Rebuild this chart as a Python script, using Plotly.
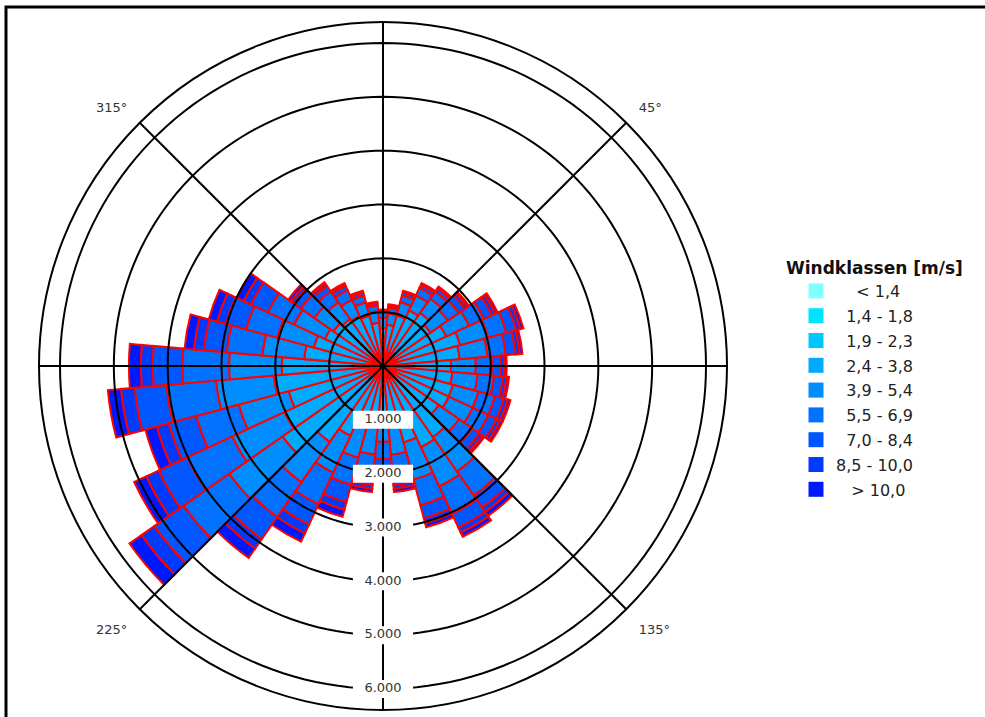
import plotly.graph_objects as go

# ---------------- data ----------------
directions = [0, 10, 20, 30, 40, 50, 60, 70, 80, 90, 100, 110, 120, 130, 140, 150, 160, 170,
              180, 190, 200, 210, 220, 230, 240, 250, 260, 270, 280, 290, 300, 310, 320, 330, 340, 350]

class_names = ["< 1,4", "1,4 - 1,8", "1,9 - 2,3", "2,4 - 3,8", "3,9 - 5,4",
               "5,5 - 6,9", "7,0 - 8,4", "8,5 - 10,0", "> 10,0"]
legend_labels = ["\u00a0\u00a0\u00a0\u00a0< 1,4", "\u00a0\u00a01,4 - 1,8", "\u00a0\u00a01,9 - 2,3",
                 "\u00a0\u00a02,4 - 3,8", "\u00a0\u00a03,9 - 5,4", "\u00a0\u00a05,5 - 6,9",
                 "\u00a0\u00a07,0 - 8,4", "8,5 - 10,0", "\u00a0\u00a0\u00a0> 10,0"]
class_colors = ["#80FFFF", "#00E4FF", "#00C8FF", "#00AAFF", "#008EFF",
                "#0072FF", "#0056FF", "#003AFF", "#0018FF"]
legend_title = "Windklassen [m/s]"

c1 = [40, 45, 60, 70, 70, 40, 45, 55, 50, 45, 45, 50, 50, 45, 50, 55, 45, 35, 30, 35, 35, 45, 50, 70, 60, 55, 60, 55, 45, 40, 35, 45, 45, 50, 55, 50]
c2 = [55, 60, 70, 85, 90, 60, 70, 80, 80, 70, 70, 75, 70, 70, 70, 70, 60, 45, 40, 50, 45, 55, 65, 85, 75, 70, 75, 70, 55, 50, 45, 60, 60, 65, 70, 60]
c3 = [85, 90, 115, 135, 145, 100, 120, 135, 130, 115, 120, 120, 125, 115, 135, 140, 125, 95, 80, 90, 85, 110, 130, 175, 155, 135, 155, 140, 110, 100, 90, 120, 110, 110, 115, 95]
c4 = [525, 575, 725, 850, 900, 880, 1060, 1215, 1170, 1035, 1060, 1100, 1105, 1035, 1360, 1400, 1240, 940, 800, 930, 990, 1220, 1480, 1950, 1735, 1555, 1745, 1615, 1260, 1140, 1020, 900, 850, 800, 725, 600]
c5 = [190, 205, 260, 305, 325, 390, 470, 540, 520, 460, 470, 490, 490, 460, 780, 805, 715, 540, 460, 545, 610, 755, 915, 1210, 1070, 960, 1080, 980, 780, 705, 630, 430, 380, 330, 260, 215]
c6 = [95, 105, 130, 155, 160, 250, 305, 350, 340, 300, 305, 320, 320, 300, 545, 560, 495, 375, 320, 380, 520, 650, 785, 1035, 920, 820, 925, 870, 665, 600, 540, 310, 250, 200, 130, 110]
c7 = [40, 45, 60, 70, 75, 135, 165, 190, 180, 160, 165, 170, 170, 160, 270, 280, 250, 190, 160, 190, 335, 415, 500, 660, 585, 525, 590, 550, 425, 385, 345, 160, 120, 90, 60, 45]
c8 = [20, 25, 30, 30, 35, 55, 70, 80, 80, 70, 70, 75, 70, 70, 100, 105, 95, 70, 60, 70, 145, 180, 215, 290, 255, 230, 255, 220, 185, 170, 150, 65, 50, 35, 35, 25]
c9 = [0, 0, 0, 0, 0, 40, 45, 55, 50, 45, 45, 50, 50, 45, 90, 85, 75, 60, 50, 60, 135, 170, 210, 275, 245, 220, 245, 220, 175, 160, 145, 60, 35, 20, 0, 0]
class_values = [c1, c2, c3, c4, c5, c6, c7, c8, c9]

ring_values = [1000, 2000, 3000, 4000, 5000, 6000]
ring_labels = ["1.000", "2.000", "3.000", "4.000", "5.000", "6.000"]
spoke_angles = [0, 45, 90, 135, 180, 225, 270, 315]
angle_labels = ["", "45°", "", "135°", "", "225°", "", "315°"]
r_max = 6390
label_angle = 180

# ---------------- figure ----------------
fig = go.Figure()

for i, (col, vals) in enumerate(zip(class_colors, class_values)):
    fig.add_trace(go.Barpolar(
        r=vals, theta=directions, name=class_names[i],
        marker=dict(color=col, line=dict(color="#FF0000", width=2)),
        showlegend=False,
    ))

# grid circles drawn above the bars
circ_theta = list(range(0, 361, 2))
gr, gt = [], []
for rv in ring_values:
    gr += [rv] * len(circ_theta) + [None]
    gt += circ_theta + [None]
fig.add_trace(go.Scatterpolar(r=gr, theta=gt, mode="lines",
                              line=dict(color="black", width=2),
                              showlegend=False, hoverinfo="skip"))
# spokes
sr, st = [], []
for a in spoke_angles:
    sr += [0, r_max, None]
    st += [a, a, None]
fig.add_trace(go.Scatterpolar(r=sr, theta=st, mode="lines",
                              line=dict(color="black", width=2),
                              showlegend=False, hoverinfo="skip"))
# radial labels with white boxes
fig.add_trace(go.Scatterpolar(r=ring_values, theta=[label_angle] * len(ring_values),
                              mode="markers",
                              marker=dict(symbol="line-ew", size=43,
                                          line=dict(color="white", width=18)),
                              showlegend=False, hoverinfo="skip"))
fig.add_trace(go.Scatterpolar(r=ring_values, theta=[label_angle] * len(ring_values),
                              mode="text", text=ring_labels,
                              textfont=dict(family="DejaVu Sans", size=13, color="#333333"),
                              showlegend=False, hoverinfo="skip"))

# legend entries (plain swatches, no outline)
for i, (name, col) in enumerate(zip(legend_labels, class_colors)):
    fig.add_trace(go.Scatterpolar(r=[None], theta=[None], mode="markers", name=name,
                                  marker=dict(symbol="square", size=15, color=col,
                                              line=dict(width=0)),
                                  legendgroup=f"g{i}", hoverinfo="skip"))

W, H = 985, 717
fig.update_layout(
    width=W, height=H,
    margin=dict(l=0, r=0, t=0, b=0),
    paper_bgcolor="white",
    font=dict(family="DejaVu Sans", color="#222222"),
    polar=dict(
        domain=dict(x=[39 / W, 727 / W], y=[(H - 710) / H, (H - 22) / H]),
        bgcolor="white",
        bargap=0,
        radialaxis=dict(range=[0, r_max], tickvals=ring_values, showticklabels=False,
                        showgrid=False, showline=False, ticks=""),
        angularaxis=dict(rotation=90, direction="clockwise",
                         tickvals=spoke_angles, ticktext=angle_labels,
                         showgrid=False, showline=True, linecolor="black", linewidth=2,
                         ticks="outside", ticklen=14, tickcolor="rgba(0,0,0,0)",
                         tickfont=dict(size=13, color="#333333"),
                         layer="above traces"),
    ),
    legend=dict(
        x=796 / W, y=(H - 274) / H, xanchor="left", yanchor="top",
        font=dict(size=16, color="#222222"),
        traceorder="grouped", tracegroupgap=1,
        bgcolor="rgba(0,0,0,0)",
    ),
    annotations=[dict(text=f"<b>{legend_title}</b>", xref="paper", yref="paper",
                      x=784 / W, y=(H - 268) / H, xanchor="left", yanchor="middle",
                      showarrow=False, font=dict(size=17, color="#111111"))],
    shapes=[dict(type="rect", xref="paper", yref="paper",
                 x0=6 / W, x1=1.05, y0=-0.05, y1=(H - 7) / H,
                 line=dict(color="black", width=3), layer="below")],
)

fig.write_html("out.html", config={"displayModeBar": False},
               post_script="document.body.style.margin='0';")
